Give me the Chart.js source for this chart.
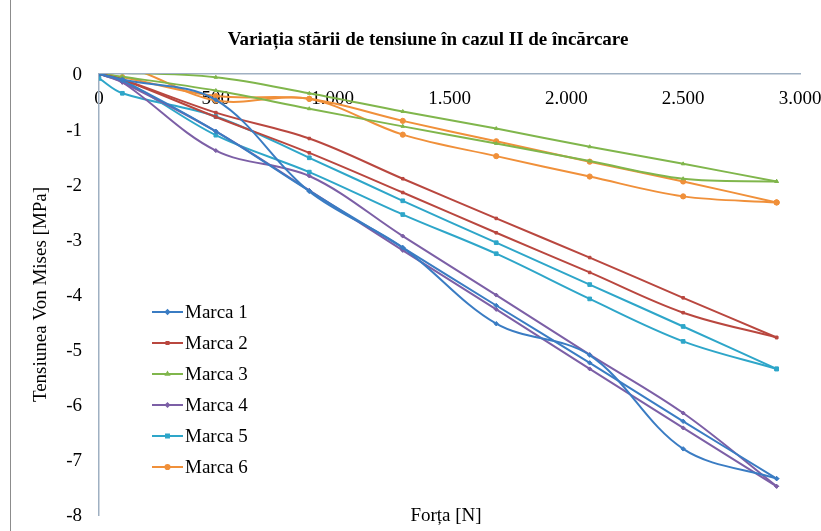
<!DOCTYPE html>
<html>
<head>
<meta charset="utf-8">
<script src="https://cdn.jsdelivr.net/npm/chart.js@4.4.1/dist/chart.umd.min.js"></script>
<style>
  html, body { margin: 0; padding: 0; background: #ffffff; }
  #wrap { width: 821px; height: 531px; position: relative; }
</style>
</head>
<body>
<div id="wrap"><canvas id="chart" width="821" height="531"></canvas></div>
<script>
// Applied force [N]
const forces = [0, 100, 500, 900, 1300, 1700, 2100, 2500, 2900];

// Von Mises stress [MPa], two curves per marker
const marca1A = [0, -0.12, -1.04, -2.12, -3.15, -4.20, -5.24, -6.30, -7.34];
const marca1B = [0, -0.10, -0.47, -2.13, -3.15, -4.53, -5.10, -6.80, -7.34];
const marca2A = [0, -0.10, -0.70, -1.17, -1.90, -2.62, -3.33, -4.06, -4.78];
const marca2B = [0, -0.10, -0.78, -1.43, -2.15, -2.88, -3.60, -4.33, -4.78];
const marca3A = [0, 0.02, -0.06, -0.35, -0.68, -0.99, -1.32, -1.63, -1.95];
const marca3B = [0, -0.05, -0.30, -0.63, -0.95, -1.26, -1.58, -1.90, -1.95];
const marca4A = [0, -0.15, -1.04, -2.11, -3.20, -4.27, -5.35, -6.42, -7.48];
const marca4B = [0, -0.15, -1.39, -1.85, -2.94, -4.01, -5.09, -6.15, -7.48];
const marca5A = [-0.08, -0.35, -0.77, -1.52, -2.30, -3.06, -3.82, -4.58, -5.35];
const marca5B = [0, -0.10, -1.11, -1.78, -2.55, -3.26, -4.08, -4.85, -5.35];
const marca6A = [0, -0.06, -0.40, -0.45, -0.85, -1.22, -1.59, -1.95, -2.33];
const marca6B = [0, 0.15, -0.48, -0.45, -1.10, -1.49, -1.86, -2.22, -2.33];

const seriesNames = ['Marca 1', 'Marca 2', 'Marca 3', 'Marca 4', 'Marca 5', 'Marca 6'];
const xTickLabels = ['0', '500', '1.000', '1.500', '2.000', '2.500', '3.000'];
const yTickLabels = ['-8', '-7', '-6', '-5', '-4', '-3', '-2', '-1', '0'];

const chartTitle = 'Variația stării de tensiune în cazul II de încărcare';
const xAxisTitle = 'Forța [N]';
const yAxisTitle = 'Tensiunea Von Mises [MPa]';

const serifFont = '"Liberation Serif", "Times New Roman", serif';

// Line colour and marker for each marker series
const styles = [
  { color: '#3a7cc3', point: 'rectRot', radius: 2.2 },
  { color: '#b9473f', point: 'rect', radius: 1.8 },
  { color: '#80b64c', point: 'triangle', radius: 2 },
  { color: '#7c5fa6', point: 'rectRot', radius: 2 },
  { color: '#2ea6c9', point: 'rect', radius: 2.6 },
  { color: '#f0903a', point: 'circle', radius: 2.6 }
];

const curvePairs = [
  [marca1A, marca1B], [marca2A, marca2B], [marca3A, marca3B],
  [marca4A, marca4B], [marca5A, marca5B], [marca6A, marca6B]
];

const datasets = [];
curvePairs.forEach((pair, i) => {
  pair.forEach((values) => {
    datasets.push({
      label: seriesNames[i],
      data: values.map((v, k) => ({ x: forces[k], y: v })),
      borderColor: styles[i].color,
      backgroundColor: styles[i].color,
      borderWidth: 2,
      pointStyle: styles[i].point,
      pointRadius: styles[i].radius,
      pointBorderWidth: 1,
      tension: 0.35,
      fill: false
    });
  });
});

// Frame, heading, horizontal axis caption and the in-plot legend
const decorPlugin = {
  id: 'decor',
  beforeDraw(chart) {
    const ctx = chart.ctx;
    ctx.save();
    ctx.fillStyle = '#ffffff';
    ctx.fillRect(0, 0, chart.width, chart.height);
    ctx.strokeStyle = '#8c8c8c';
    ctx.lineWidth = 1;
    ctx.strokeRect(10.5, -5, chart.width + 20, chart.height + 20);
    ctx.restore();
  },
  afterDraw(chart) {
    const ctx = chart.ctx;
    ctx.save();
    ctx.fillStyle = '#000000';
    ctx.textAlign = 'center';
    ctx.textBaseline = 'middle';
    ctx.font = 'bold 19px ' + serifFont;
    ctx.fillText(chartTitle, 428, 40);

    ctx.font = '19px ' + serifFont;
    ctx.fillText(xAxisTitle, 446, 516);

    // legend
    const lx = 152, lw = 31, top = 312, step = 31;
    seriesNames.forEach((name, i) => {
      const y = top + i * step;
      const st = styles[i];
      ctx.strokeStyle = st.color;
      ctx.lineWidth = 2;
      ctx.beginPath();
      ctx.moveTo(lx, y);
      ctx.lineTo(lx + lw, y);
      ctx.stroke();
      ctx.fillStyle = st.color;
      Chart.helpers.drawPoint(ctx, { pointStyle: st.point, radius: st.radius * 0.8, rotation: 0, borderWidth: 1 }, lx + lw / 2, y);
      ctx.fillStyle = '#000000';
      ctx.textAlign = 'left';
      ctx.fillText(name, lx + lw + 2, y + 1);
    });
    ctx.restore();
  }
};

new Chart(document.getElementById('chart'), {
  type: 'line',
  data: { datasets },
  options: {
    responsive: false,
    animation: false,
    devicePixelRatio: 1,
    layout: { padding: { top: 74, left: 0, right: 21, bottom: 16 } },
    plugins: {
      legend: { display: false },
      title: { display: false },
      tooltip: { enabled: false }
    },
    scales: {
      x: {
        type: 'linear',
        position: { y: 0 },
        min: 0,
        max: 3000,
        grid: { display: false, drawTicks: false },
        border: { display: true, color: '#9fb0c2', width: 1.5 },
        ticks: {
          stepSize: 500,
          autoSkip: false,
          maxRotation: 0,
          padding: 14,
          color: '#000000',
          font: { family: serifFont, size: 19 },
          callback: (v) => xTickLabels[Math.round(v / 500)]
        },
        afterFit(scale) {
          scale.paddingLeft = 0;
          scale.paddingRight = 0;
          scale.paddingTop = 0;
          scale.paddingBottom = 0;
        }
      },
      y: {
        type: 'linear',
        position: 'left',
        min: -8,
        max: 0,
        grid: { display: false, drawTicks: false },
        border: { display: true, color: '#9fb0c2', width: 1.5 },
        ticks: {
          stepSize: 1,
          padding: 17,
          labelOffset: 1.5,
          color: '#000000',
          font: { family: serifFont, size: 19 },
          callback: (v) => yTickLabels[Math.round(v) + 8]
        },
        title: {
          display: true,
          text: yAxisTitle,
          color: '#000000',
          font: { family: serifFont, size: 19 },
          padding: { top: 30, bottom: 0 }
        },
        afterFit(scale) {
          scale.width = 99;
          scale.paddingTop = 0;
          scale.paddingBottom = 0;
        }
      }
    }
  },
  plugins: [decorPlugin]
});
</script>
</body>
</html>
